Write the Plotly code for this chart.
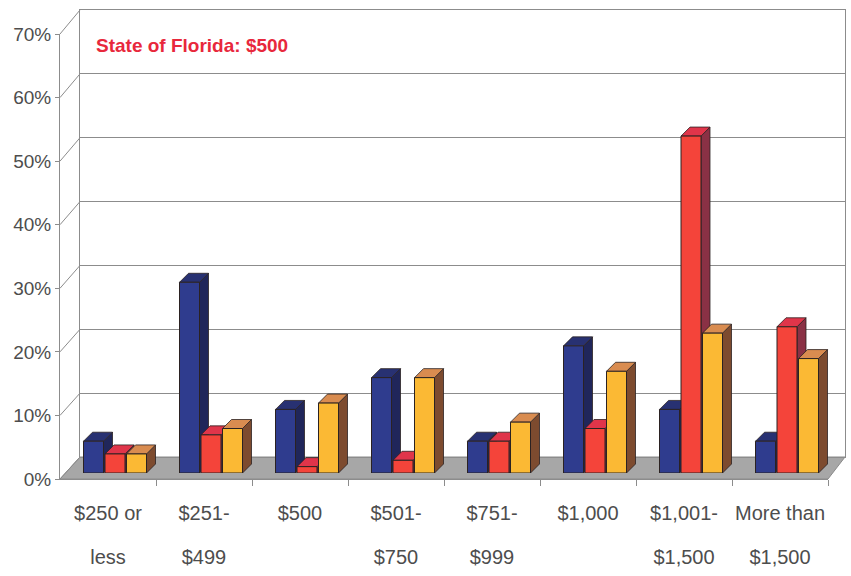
import plotly.graph_objects as go

# ---------------- data ----------------
labels_line1 = ["$250 or", "$251-", "$500", "$501-", "$751-", "$1,000", "$1,001-", "More than"]
labels_line2 = ["less", "$499", "", "$750", "$999", "", "$1,500", "$1,500"]
series_names = ["Series 1", "Series 2", "Series 3"]
blue_vals = [5, 30, 10, 15, 5, 20, 10, 5]
red_vals = [3, 6, 1, 2, 5, 7, 53, 23]
orange_vals = [3, 7, 11, 15, 8, 16, 22, 18]
y_tick_vals = [0, 10, 20, 30, 40, 50, 60, 70]
y_tick_text = ["0%", "10%", "20%", "30%", "40%", "50%", "60%", "70%"]
title_text = "State of Florida: $500"

# ---------------- geometry (pixels) ----------------
FIG_W, FIG_H = 851, 576
L, R, T, B = 60, 845, 10, 479
W, H = R - L, B - T

def fx(px):
    return (px - L) / W

def fy(py):
    return (B - py) / H

# front plane, back wall, bar plane (pixel boxes)
FRONT = dict(x0=60, x1=828, y0=479, y1=34)
BACK = dict(x0=80, x1=845, y0=457, y1=10)
BARS = dict(x0=67, x1=835, y0=473, y1=28)

n = len(labels_line1)
XR = [-0.5, n - 0.5]
YR = [0, 70]

px_per_unit = (BARS["x1"] - BARS["x0"]) / n
px_per_pct = (BARS["y0"] - BARS["y1"]) / (YR[1] - YR[0])
DEPTH_PX = 9
DX = DEPTH_PX / px_per_unit
DY = DEPTH_PX / px_per_pct
BAR_W = 20 / px_per_unit
BAR_STEP = 21.5 / px_per_unit

FONT = "Liberation Sans, Arial, sans-serif"
FS = 20
FS_Y = 19
GRID = "#8c8c8c"
TXT = "#4d4d4d"
EDGE = "#2b2222"

series = [
    dict(name=series_names[0], vals=blue_vals, front="#2f3c8e", top="#283172", side="#20265a"),
    dict(name=series_names[1], vals=red_vals, front="#f4443a", top="#e0354a", side="#8a3145"),
    dict(name=series_names[2], vals=orange_vals, front="#fbb934", top="#d98c50", side="#7d4b2f"),
]

fig = go.Figure()

# empty anchors so every axis pair is drawn
fig.add_trace(go.Scatter(x=[None], y=[None], xaxis="x", yaxis="y", showlegend=False, hoverinfo="skip"))
fig.add_trace(go.Scatter(x=[None], y=[None], xaxis="x2", yaxis="y2", showlegend=False, hoverinfo="skip"))
fig.add_trace(go.Scatter(x=[None], y=[None], xaxis="x5", yaxis="y", showlegend=False, hoverinfo="skip"))

# depth faces (sides and tops) drawn in series order
for k, s in enumerate(series):
    off = (k - 1) * BAR_STEP
    sx, sy, tx, ty = [], [], [], []
    for i, v in enumerate(s["vals"]):
        c = i + off
        xl, xr = c - BAR_W / 2, c + BAR_W / 2
        sx += [xr, xr + DX, xr + DX, xr, xr, None]
        sy += [0, DY, v + DY, v, 0, None]
        tx += [xl, xr, xr + DX, xl + DX, xl, None]
        ty += [v, v, v + DY, v + DY, v, None]
    fig.add_trace(go.Scatter(x=sx, y=sy, xaxis="x3", yaxis="y3", mode="lines", fill="toself",
                             fillcolor=s["side"], line=dict(color=EDGE, width=0.8),
                             showlegend=False, hoverinfo="skip"))
    fig.add_trace(go.Scatter(x=tx, y=ty, xaxis="x3", yaxis="y3", mode="lines", fill="toself",
                             fillcolor=s["top"], line=dict(color=EDGE, width=0.8),
                             showlegend=False, hoverinfo="skip"))

# front faces as real bars
for k, s in enumerate(series):
    off = (k - 1) * BAR_STEP
    fig.add_trace(go.Bar(x=[i + off for i in range(n)], y=s["vals"], width=BAR_W,
                         name=s["name"], xaxis="x4", yaxis="y4",
                         marker=dict(color=s["front"], line=dict(color=EDGE, width=1)),
                         showlegend=False))

def dom_x(box):
    return [fx(box["x0"]), fx(box["x1"])]

def dom_y(box):
    return [fy(box["y0"]), fy(box["y1"])]

hidden = dict(showgrid=False, zeroline=False, showticklabels=False, showline=False, ticks="",
              automargin=False)

layout = dict(
    width=FIG_W, height=FIG_H, autosize=False,
    margin=dict(l=L, r=FIG_W - R, t=T, b=FIG_H - B, pad=0, autoexpand=False),
    paper_bgcolor="white", plot_bgcolor="rgba(0,0,0,0)",
    barmode="overlay", showlegend=False,
    font=dict(family=FONT, color=TXT, size=FS),
    # front axes
    xaxis=dict(domain=dom_x(FRONT), anchor="y", range=XR, showgrid=False, zeroline=False,
               showline=True, linecolor=GRID, linewidth=1, automargin=False,
               tickmode="array", tickvals=list(range(n)), ticktext=labels_line1, ticks="",
               ticklabelstandoff=16, tickfont=dict(size=FS, color=TXT, family=FONT),
               minor=dict(tickmode="array", tickvals=[i + 0.5 for i in range(n)], ticks="outside",
                          ticklen=6, tickcolor=GRID, showgrid=False)),
    yaxis=dict(domain=dom_y(FRONT), anchor="x", range=YR, showgrid=False, zeroline=False,
               showline=True, linecolor=GRID, linewidth=1, automargin=False,
               tickmode="array", tickvals=y_tick_vals, ticktext=y_tick_text,
               ticks="outside", ticklen=4, tickcolor=GRID,
               tickfont=dict(size=FS_Y, color=TXT, family=FONT)),
    # second line of category labels
    xaxis5=dict(overlaying="x", anchor="y", range=XR, showgrid=False, zeroline=False, showline=False,
                automargin=False,
                tickmode="array", tickvals=list(range(n)), ticktext=labels_line2, ticks="",
                side="bottom", ticklabelstandoff=64, tickfont=dict(size=FS, color=TXT, family=FONT)),
    # back wall
    xaxis2=dict(domain=dom_x(BACK), anchor="y2", range=[0, 1], showgrid=False, zeroline=False,
                automargin=False,
                showticklabels=False, ticks="", showline=True, mirror=True, linecolor=GRID, linewidth=1),
    yaxis2=dict(domain=dom_y(BACK), anchor="x2", range=YR, showgrid=True, gridcolor=GRID, gridwidth=1,
                dtick=10, tick0=0, zeroline=False, showticklabels=False, ticks="", automargin=False,
                showline=True, mirror=True, linecolor=GRID, linewidth=1),
    # bar plane
    xaxis3=dict(domain=dom_x(BARS), anchor="y3", range=XR, **hidden),
    yaxis3=dict(domain=dom_y(BARS), anchor="x3", range=YR, **hidden),
    xaxis4=dict(overlaying="x3", anchor="y4", range=XR, **hidden),
    yaxis4=dict(overlaying="y3", anchor="x4", range=YR, **hidden),
)
fig.update_layout(**layout)

# floor and wall connectors (derived from the axis boxes)
fy_front = dom_y(FRONT)
fy_back = dom_y(BACK)
fx_front = dom_x(FRONT)
fx_back = dom_x(BACK)
floor_path = (f"M {fx_front[0]},{fy_front[0]} L {fx_front[1]},{fy_front[0]} "
              f"L {fx_back[1]},{fy_back[0]} L {fx_back[0]},{fy_back[0]} Z")
fig.add_shape(type="path", path=floor_path, xref="paper", yref="paper",
              fillcolor="#a7a7a7", line=dict(color="#8a8a8a", width=1), layer="below")
for v in y_tick_vals:
    yf = fy_front[0] + (fy_front[1] - fy_front[0]) * (v - YR[0]) / (YR[1] - YR[0])
    yb = fy_back[0] + (fy_back[1] - fy_back[0]) * (v - YR[0]) / (YR[1] - YR[0])
    fig.add_shape(type="line", xref="paper", yref="paper", x0=fx_front[0], y0=yf,
                  x1=fx_back[0], y1=yb, line=dict(color=GRID, width=1), layer="below")

fig.add_annotation(text=f"<b>{title_text}</b>", xref="paper", yref="paper",
                   x=fx(94), y=fy(45), xanchor="left", yanchor="middle", showarrow=False,
                   font=dict(family=FONT, size=19, color="#e8283c"))

fig.write_html("out.html", config={"displayModeBar": False},
               post_script="document.body.style.margin='0px';")
